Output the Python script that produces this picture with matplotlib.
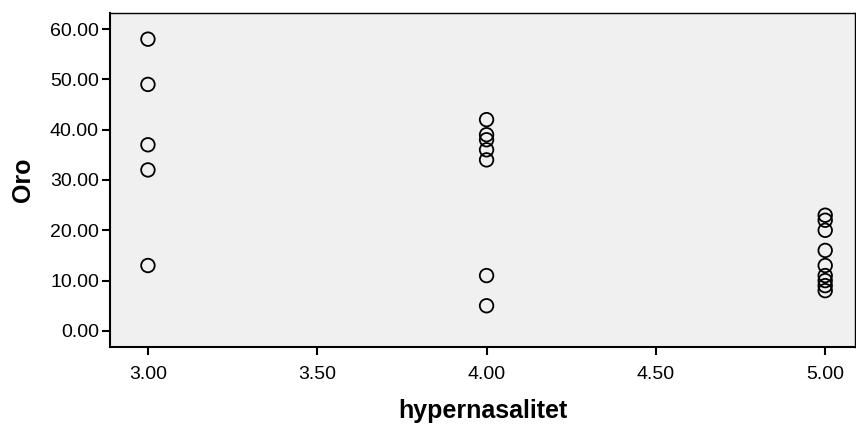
import matplotlib
matplotlib.use("Agg")
import matplotlib.pyplot as plt
from matplotlib.ticker import FormatStrFormatter

plt.rcParams['font.family'] = ['Liberation Sans', 'DejaVu Sans']

x3 = [3.0] * 5
y3 = [58, 49, 37, 32, 13]
x4 = [4.0] * 7
y4 = [42, 39, 38, 36, 34, 11, 5]
x5 = [5.0] * 9
y5 = [23, 22, 20, 16, 13, 11, 10, 9, 8]

xs = x3 + x4 + x5
ys = y3 + y4 + y5

xticks = [3.0, 3.5, 4.0, 4.5, 5.0]
yticks = [0, 10, 20, 30, 40, 50, 60]

fig = plt.figure(figsize=(8.56, 4.30), dpi=100)
ax = fig.add_axes([110/856, 83/430, 745/856, 334/430])
ax.set_facecolor('#f0f0f0')
ax.scatter(xs, ys, s=95, facecolors='none', edgecolors='black', linewidths=1.3, zorder=3)

ax.set_xlim(2.888, 5.088)
ax.set_ylim(-3.2, 63.2)
ax.set_xticks(xticks)
ax.set_yticks(yticks)
ax.xaxis.set_major_formatter(FormatStrFormatter('%.2f'))
ax.yaxis.set_major_formatter(FormatStrFormatter('%.2f'))
ax.tick_params(axis='both', direction='out', length=6, width=1.5, labelsize=14, colors='black', pad=2)
ax.tick_params(axis='x', pad=8)
for side in ['top', 'right']:
    ax.spines[side].set_linewidth(1.0)
for side in ['left', 'bottom']:
    ax.spines[side].set_linewidth(1.5)

ax.set_xlabel('hypernasalitet', fontsize=18, fontweight='bold', labelpad=11)
ax.set_ylabel('Oro', fontsize=18, fontweight='bold', labelpad=11)

fig.savefig('out.png', dpi=100, facecolor='white')
